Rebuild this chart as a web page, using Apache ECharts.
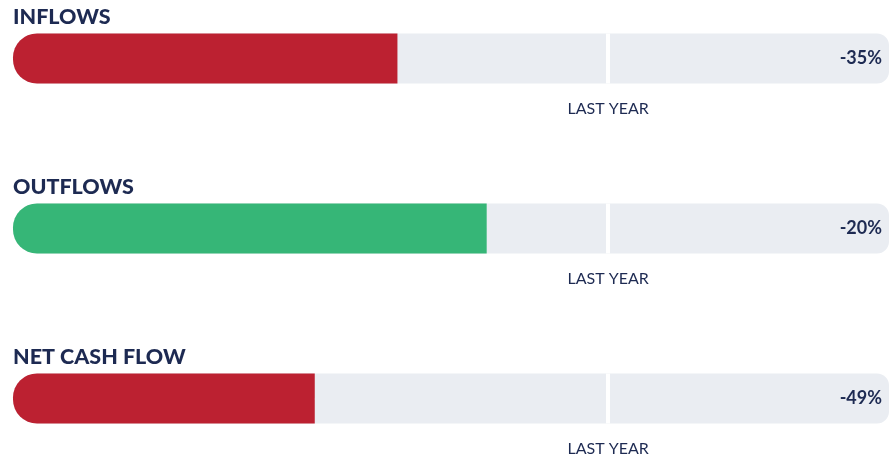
<!DOCTYPE html>
<html>
<head>
<meta charset="utf-8">
<script src="https://cdn.jsdelivr.net/npm/echarts@6/dist/echarts.min.js"></script>
<style>
html,body{margin:0;padding:0;background:#fff;}
#c{width:891px;height:459px;}
</style>
</head>
<body>
<div id="c"></div>
<script>
var categories = ['INFLOWS', 'OUTFLOWS', 'NET CASH FLOW'];
var changePct = [-35, -20, -49];          // change vs last year, %
var currentRatio = [0.646, 0.796, 0.507]; // current value relative to last year (last year = 1)
var barColors = ['#bc2131', '#36b677', '#bc2131'];
var lastYearLabel = 'LAST YEAR';
var lastYearValue = 1;
var axisMax = 1.472;

var navy = '#1d2a52';
var track = '#eaedf2';
var panelStep = 170;
var barTop = 33.5;
var barH = 50;

var grids = [], xAxes = [], yAxes = [], series = [], titles = [];
categories.forEach(function (name, i) {
  var top = barTop + i * panelStep;
  grids.push({ left: 13, width: 876, top: top, height: barH, containLabel: false });
  xAxes.push({ type: 'value', gridIndex: i, min: 0, max: axisMax, show: false });
  yAxes.push({ type: 'category', gridIndex: i, data: [name], show: false });
  titles.push({
    text: name, left: 13, top: 6 + i * panelStep, padding: 0,
    textStyle: { fontFamily: 'Lato', fontWeight: 900, fontSize: 21.5, color: navy }
  });
  series.push({
    type: 'bar', xAxisIndex: i, yAxisIndex: i, data: [axisMax],
    barWidth: barH, barGap: '-100%', silent: true,
    itemStyle: { color: track, borderRadius: [24, 12, 12, 24] },
    label: {
      show: true, position: 'insideRight', distance: 7,
      formatter: changePct[i] + '%',
      fontFamily: 'Lato', fontWeight: 700, fontSize: 18, color: navy
    },
    z: 1
  });
  series.push({
    type: 'bar', xAxisIndex: i, yAxisIndex: i, data: [currentRatio[i]],
    barWidth: barH, barGap: '-100%', silent: true,
    itemStyle: { color: barColors[i], borderRadius: [24, 0, 0, 24] },
    z: 2,
    markLine: {
      silent: true, symbol: ['none', 'none'],
      lineStyle: { color: '#ffffff', width: 4, type: 'solid' },
      label: {
        show: true, position: 'start', distance: 17,
        formatter: lastYearLabel,
        fontFamily: 'Lato', fontSize: 16, color: navy
      },
      data: [{ xAxis: lastYearValue }]
    }
  });
});

var chart = echarts.init(document.getElementById('c'), null, { renderer: 'canvas' });
chart.setOption({
  animation: false,
  title: titles,
  grid: grids,
  xAxis: xAxes,
  yAxis: yAxes,
  series: series
});
</script>
</body>
</html>
